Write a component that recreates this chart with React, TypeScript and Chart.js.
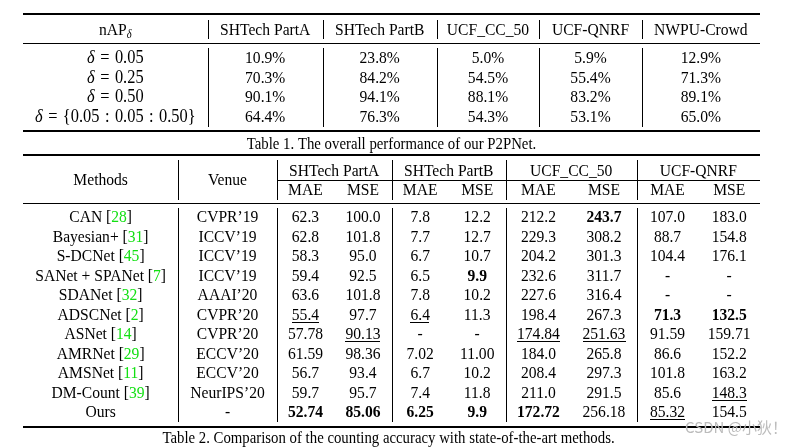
import React, { useEffect, useRef } from "react";
import { Chart, registerables } from "chart.js";
Chart.register(...registerables);

// ---------- Table 1 data ----------
const T1_DATASETS = ["SHTech PartA", "SHTech PartB", "UCF_CC_50", "UCF-QNRF", "NWPU-Crowd"];
const T1_DELTAS = ["0.05", "0.25", "0.50", "{0.05\u2004:\u20040.05\u2004:\u20040.50}"];
const NAP_SHA = [10.9, 70.3, 90.1, 64.4];
const NAP_SHB = [23.8, 84.2, 94.1, 76.3];
const NAP_CC = [5.0, 54.5, 88.1, 54.3];
const NAP_QNRF = [5.9, 55.4, 83.2, 53.1];
const NAP_NWPU = [12.9, 71.3, 89.1, 65.0];
const T1_CAPTION = "Table 1. The overall performance of our P2PNet.";

// ---------- Table 2 data ----------
const T2_GROUPS = ["SHTech PartA", "SHTech PartB", "UCF_CC_50", "UCF-QNRF"];
const T2_METRICS = ["MAE", "MSE"];
const METHODS = ["CAN", "Bayesian+", "S-DCNet", "SANet + SPANet", "SDANet", "ADSCNet", "ASNet", "AMRNet", "AMSNet", "DM-Count", "Ours"];
const REFS = ["28", "31", "45", "7", "32", "2", "14", "29", "11", "39", ""];
const VENUES = ["CVPR’19", "ICCV’19", "ICCV’19", "ICCV’19", "AAAI’20", "CVPR’20", "CVPR’20", "ECCV’20", "ECCV’20", "NeurIPS’20", "-"];
const SHA_MAE = ["62.3", "62.8", "58.3", "59.4", "63.6", "55.4", "57.78", "61.59", "56.7", "59.7", "52.74"];
const SHA_MSE = ["100.0", "101.8", "95.0", "92.5", "101.8", "97.7", "90.13", "98.36", "93.4", "95.7", "85.06"];
const SHB_MAE = ["7.8", "7.7", "6.7", "6.5", "7.8", "6.4", "-", "7.02", "6.7", "7.4", "6.25"];
const SHB_MSE = ["12.2", "12.7", "10.7", "9.9", "10.2", "11.3", "-", "11.00", "10.2", "11.8", "9.9"];
const CC_MAE = ["212.2", "229.3", "204.2", "232.6", "227.6", "198.4", "174.84", "184.0", "208.4", "211.0", "172.72"];
const CC_MSE = ["243.7", "308.2", "301.3", "311.7", "316.4", "267.3", "251.63", "265.8", "297.3", "291.5", "256.18"];
const Q_MAE = ["107.0", "88.7", "104.4", "-", "-", "71.3", "91.59", "86.6", "101.8", "85.6", "85.32"];
const Q_MSE = ["183.0", "154.8", "176.1", "-", "-", "132.5", "159.71", "152.2", "163.2", "148.3", "154.5"];
// [column index, row index]
const BOLD_CELLS = [[5, 0], [3, 3], [6, 5], [7, 5], [0, 10], [1, 10], [2, 10], [3, 10], [4, 10]];
const UNDERLINED_CELLS = [[0, 5], [2, 5], [1, 6], [4, 6], [5, 6], [7, 9], [6, 10]];
const T2_CAPTION = "Table 2. Comparison of the counting accuracy with state-of-the-art methods.";
const WATERMARK = "CSDN @小狄！";

// ---------- layout (styles / positions) ----------
const W = 797;
const H = 448;
const SERIF = '"Liberation Serif", "Times New Roman", serif';
const FS = 15.6;
const SY = 1.1;
const GREEN = "#12e012";

const T1_EDGES = [23, 207.7, 322.7, 436.7, 539.3, 641.7, 760];
const T1 = { top: 14, head: 29, headLine: 43.5, row0: 57.5, step: 19.6, bottom: 131, caption: 143, hs: [20, 39], bs: [48, 127] };
const T2_EDGES = [23, 178.3, 276.7, 391.7, 505.7, 636.7, 760];
const T2 = { top: 155, group: 170, subLine: 180.7, sub: 189.5, head: 179, headLine: 203.3, row0: 216.6, step: 19.5, bottom: 426.7, caption: 437, hs: [160, 199.5], bs: [208, 421.7] };

type Seg = { t: string; c?: string; italic?: boolean; bold?: boolean; size?: number; dy?: number; family?: string; sy?: number };

function fontOf(s: Seg) {
  return `${s.italic ? "italic " : ""}${s.bold ? "bold " : ""}${s.size ?? FS}px ${s.family ?? SERIF}`;
}

function drawSegs(ctx: CanvasRenderingContext2D, segs: Seg[], cx: number, cy: number, underline = false) {
  ctx.save();
  const widths = segs.map((s) => {
    ctx.font = fontOf(s);
    return ctx.measureText(s.t).width;
  });
  const total = widths.reduce((a, b) => a + b, 0);
  let x = cx - total / 2;
  const by = cy + (FS * 0.66 * SY) / 2;
  segs.forEach((s, i) => {
    ctx.save();
    ctx.translate(x, by + (s.dy ?? 0));
    ctx.scale(1, s.sy ?? SY);
    ctx.font = fontOf(s);
    ctx.fillStyle = s.c ?? "#000";
    ctx.textAlign = "left";
    ctx.textBaseline = "alphabetic";
    ctx.fillText(s.t, 0, 0);
    ctx.restore();
    x += widths[i];
  });
  if (underline) {
    ctx.fillStyle = "#000";
    ctx.fillRect(Math.round(cx - total / 2), Math.round(by + 2), Math.round(total), 1);
  }
  ctx.restore();
}

const tablePlugin = {
  id: "tablePlugin",
  afterDraw(chart: any) {
    const ctx: CanvasRenderingContext2D = chart.ctx;
    const xs = chart.scales.x;
    const ys = chart.scales.y;
    const X = (v: number) => xs.getPixelForValue(v);
    const Y = (v: number) => ys.getPixelForValue(v);
    const hline = (x0: number, x1: number, y: number, th: number) => {
      ctx.fillStyle = "#000";
      ctx.fillRect(Math.round(X(x0)), Math.round(Y(y) - th / 2), Math.round(X(x1) - X(x0)), th);
    };
    const vline = (x: number, y0: number, y1: number) => {
      ctx.fillStyle = "#000";
      ctx.fillRect(Math.round(X(x)), Math.round(Y(y0)), 1, Math.round(Y(y1) - Y(y0)));
    };
    const text = (segs: Seg[], x: number, y: number, u = false) => drawSegs(ctx, segs, X(x), Y(y), u);
    const mid = (e: number[], i: number) => (e[i] + e[i + 1]) / 2;

    // ===== Table 1 =====
    const e1 = T1_EDGES;
    hline(e1[0], e1[6], T1.top, 2);
    hline(e1[0], e1[6], T1.headLine, 1);
    hline(e1[0], e1[6], T1.bottom, 2);
    for (let i = 1; i < 6; i++) {
      vline(e1[i], T1.hs[0], T1.hs[1]);
      vline(e1[i], T1.bs[0], T1.bs[1]);
    }
    text([{ t: "nAP" }, { t: "δ", italic: true, size: 10.5, dy: 3 }], mid(e1, 0), T1.head);
    T1_DATASETS.forEach((d, i) => text([{ t: d }], mid(e1, i + 1), T1.head));
    const t1cols = [NAP_SHA, NAP_SHB, NAP_CC, NAP_QNRF, NAP_NWPU];
    T1_DELTAS.forEach((d, r) => {
      const y = T1.row0 + r * T1.step;
      text([{ t: "δ", italic: true, size: 16.4 }, { t: "\u2004=\u2004" + d, size: 16.4 }], mid(e1, 0), y);
      t1cols.forEach((col, c) => text([{ t: col[r].toFixed(1) + "%" }], mid(e1, c + 1), y));
    });
    text([{ t: T1_CAPTION, size: 14.8 }], (e1[0] + e1[6]) / 2, T1.caption);

    // ===== Table 2 =====
    const e2 = T2_EDGES;
    hline(e2[0], e2[6], T2.top, 2);
    hline(e2[2], e2[6], T2.subLine, 1);
    hline(e2[0], e2[6], T2.headLine, 1);
    hline(e2[0], e2[6], T2.bottom, 2);
    for (let i = 1; i < 6; i++) {
      vline(e2[i], T2.hs[0], T2.hs[1]);
      vline(e2[i], T2.bs[0], T2.bs[1]);
    }
    text([{ t: "Methods" }], mid(e2, 0), T2.head);
    text([{ t: "Venue" }], mid(e2, 1), T2.head);
    const subX: number[] = [];
    T2_GROUPS.forEach((g, gi) => {
      const l = e2[gi + 2];
      const r = e2[gi + 3];
      text([{ t: g }], (l + r) / 2, T2.group);
      T2_METRICS.forEach((m, mi) => {
        const x = l + (r - l) * (mi === 0 ? 0.25 : 0.75);
        subX.push(x);
        text([{ t: m }], x, T2.sub);
      });
    });
    const cols = [SHA_MAE, SHA_MSE, SHB_MAE, SHB_MSE, CC_MAE, CC_MSE, Q_MAE, Q_MSE];
    METHODS.forEach((m, r) => {
      const y = T2.row0 + r * T2.step;
      const segs: Seg[] = REFS[r] ? [{ t: m + " [" }, { t: REFS[r], c: GREEN }, { t: "]" }] : [{ t: m }];
      text(segs, mid(e2, 0), y);
      text([{ t: VENUES[r] }], mid(e2, 1), y);
      cols.forEach((col, c) => {
        const bold = BOLD_CELLS.some(([cc, rr]) => cc === c && rr === r);
        const ul = UNDERLINED_CELLS.some(([cc, rr]) => cc === c && rr === r);
        text([{ t: col[r], bold }], subX[c], y, ul);
      });
    });
    text([{ t: T2_CAPTION, size: 14.8 }], (e2[0] + e2[6]) / 2 - 3, T2.caption);

    // watermark
    text([{ t: WATERMARK, size: 15, c: "#bcbcbc", family: '"Noto Sans CJK SC", "Noto Sans", sans-serif', sy: 1 }], 736, 427);
  },
};

export default function App() {
  const ref = useRef<HTMLCanvasElement | null>(null);
  useEffect(() => {
    document.body.style.margin = "0";
    const canvas = ref.current;
    if (!canvas) return;
    const chart = new Chart(canvas, {
      type: "scatter",
      data: { datasets: [{ data: [], pointRadius: 0 }] },
      options: {
        animation: false,
        responsive: false,
        devicePixelRatio: 1,
        layout: { padding: 0 },
        plugins: { legend: { display: false }, tooltip: { enabled: false } },
        scales: {
          x: { type: "linear", min: 0, max: W, display: false },
          y: { type: "linear", min: 0, max: H, reverse: true, display: false },
        },
      },
      plugins: [tablePlugin],
    });
    return () => chart.destroy();
  }, []);
  return (
    <div style={{ width: W, height: H, background: "#fff" }}>
      <canvas ref={ref} width={W} height={H} style={{ display: "block", width: W, height: H }} />
    </div>
  );
}
